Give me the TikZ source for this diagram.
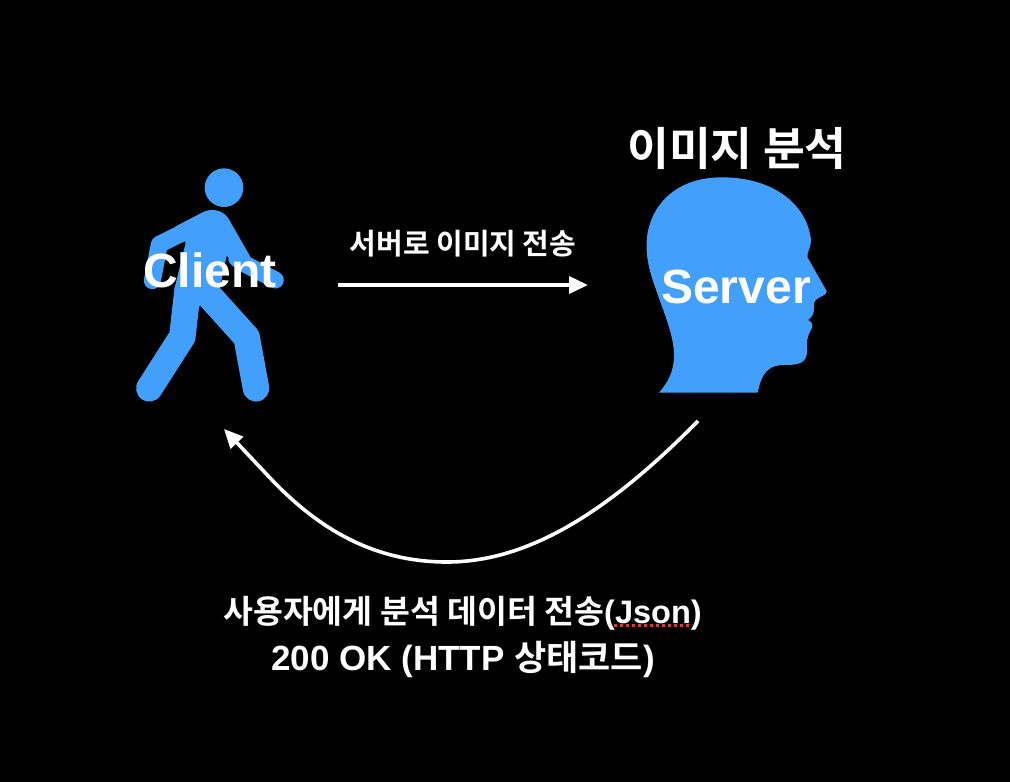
\documentclass[tikz,border=0pt]{standalone}
\usepackage{fontspec}
\setmainfont{Liberation Sans}[BoldFont={Liberation Sans Bold}]
\newfontfamily\kr{Noto Sans CJK KR}[BoldFont={Noto Sans CJK KR Bold}]
\usetikzlibrary{arrows.meta}
\definecolor{figblue}{RGB}{66,160,252}
\definecolor{squiggle}{RGB}{214,62,56}
\tikzset{
  figure/.style={fill=figblue,draw=none},
  limb/.style={draw=figblue,line cap=round,line join=round},
  flowline/.style={draw=white,line width=3.6pt,-{Triangle[length=19pt,width=17pt]}},
  lat/.style={text=white,font=\fontsize{48}{52}\selectfont\bfseries,inner sep=0pt},
  caption/.style={text=white,inner sep=0pt}
}
\begin{document}
\begin{tikzpicture}[x=1pt,y=-1pt]
\useasboundingbox (0,0) rectangle (1010,782);
\fill[black] (0,0) rectangle (1010,782);
% walker
\begin{scope}[shift={(120,150)},x=0.3333pt,y=-0.3333pt]
  \fill[figure] (312,113) circle (58);
  % torso
  \fill[figure] (197,278) -- (165,230) -- (250,186)
    .. controls (270,176) and (305,176) .. (325,205)
    -- (392,322) -- (440,405) -- (320,318) -- (298,420) -- (240,468) -- (150,547) -- (165,410) -- cycle;
  % arms
  \draw[limb,line width=17pt] (97,392) -- (118,283) -- (185,250);
  \draw[limb,line width=17pt] (350,325) -- (380,345) -- (466,390);
  % legs
  \draw[limb,line width=26.5pt] (88,715) -- (187,560) -- (203,420);
  \draw[limb,line width=26.5pt] (408,715) -- (380,562) -- (270,440);
\end{scope}
% head
\begin{scope}[shift={(630,165)},x=0.3333pt,y=-0.3333pt]
  \fill[figure] (87,683)
    .. controls (115,650) and (132,620) .. (132,570)
    .. controls (132,510) and (100,440) .. (75,365)
    .. controls (55,310) and (48,270) .. (50,230)
    .. controls (55,130) and (130,35) .. (280,37)
    .. controls (420,38) and (530,110) .. (543,225)
    .. controls (543,250) and (530,260) .. (533,278)
    -- (590,378)
    .. controls (592,395) and (552,395) .. (552,418)
    .. controls (552,435) and (555,450) .. (534,465)
    .. controls (545,470) and (550,480) .. (545,490)
    .. controls (535,510) and (530,520) .. (531,545)
    .. controls (535,590) and (515,597) .. (480,600)
    .. controls (440,600) and (400,595) .. (383,683)
    -- cycle;
\end{scope}
% labels
\node[lat] (client) at (210,270) {Client};
\node[lat] (server) at (736,287) {Server};
\node[text=white,inner sep=0pt,font=\fontsize{45.5}{50}\selectfont\bfseries\kr] (title) at (737,148) {이미지 분석};
\node[text=white,inner sep=0pt,font=\fontsize{29}{32}\selectfont\bfseries\kr] (send) at (463,244) {서버로 이미지 전송};
\node[caption,font=\fontsize{32.5}{38}\selectfont\bfseries] (cap1) at (462.5,613) {{\kr 사용자에게 분석 데이터 전송}(Json)};
\node[caption,font=\fontsize{35}{40}\selectfont\bfseries] (cap2) at (463,659) {200 OK (HTTP {\kr 상태코드})};
\draw[squiggle,line width=3pt,dash pattern=on 3pt off 3pt] (614,625) -- (692,625);
% connectors
\coordinate (a1) at (338,285);
\coordinate (a2) at (588,285);
\coordinate (b1) at (698,421);
\coordinate (b2) at (447,562);
\coordinate (b3) at (272,480);
\coordinate (b4) at (224,429);
\draw[flowline] (a1) -- (a2);
\draw[flowline] (b1) .. controls (610,510) and (530,562) .. (b2)
  .. controls (375,562) and (320,530) .. (b3) -- (b4);
\end{tikzpicture}
\end{document}
